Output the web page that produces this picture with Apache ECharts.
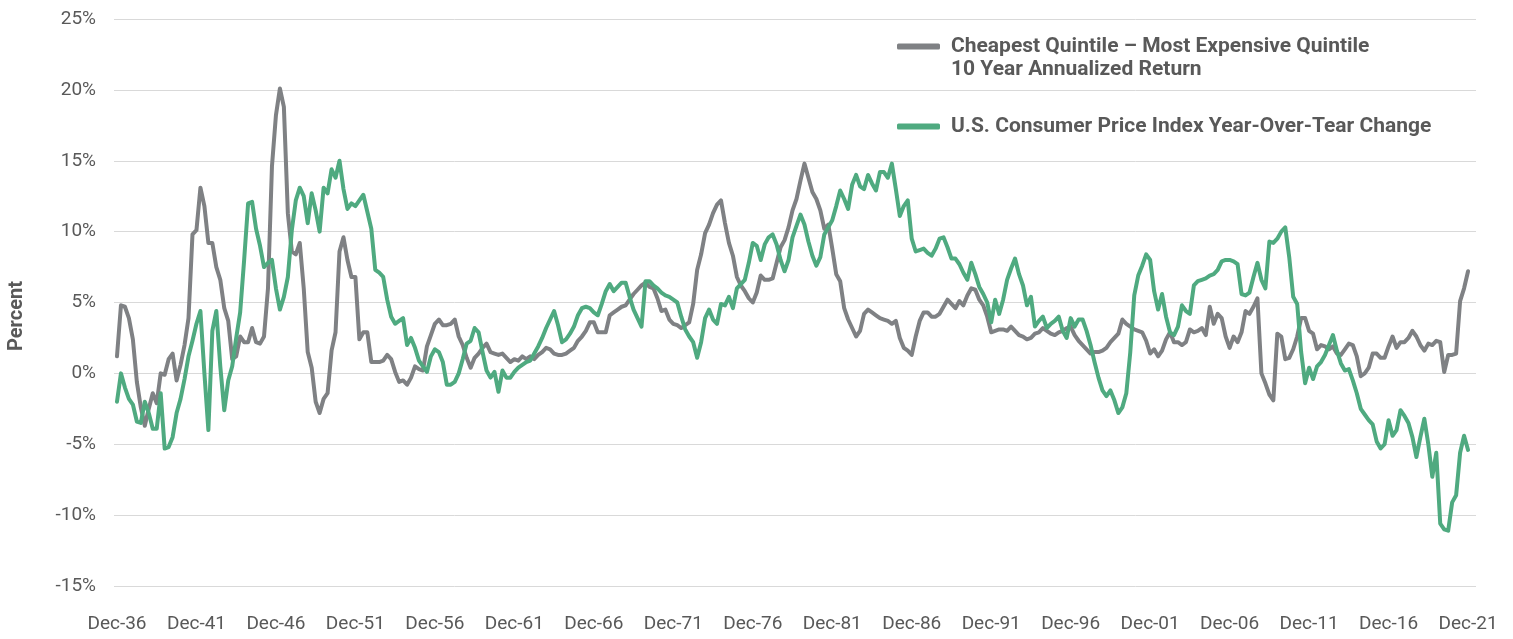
<!DOCTYPE html>
<html>
<head>
<meta charset="utf-8">
<script src="https://cdn.jsdelivr.net/npm/echarts@6/dist/echarts.min.js"></script>
<style>
html,body{margin:0;padding:0;background:#fff;}
#chart{width:1513px;height:639px;}
</style>
</head>
<body>
<div id="chart"></div>
<script>
// Quarterly observations, Dec-1936 .. Dec-2021 (341 quarters)
const tickLabels = ['Dec-36','Dec-41','Dec-46','Dec-51','Dec-56','Dec-61','Dec-66','Dec-71','Dec-76','Dec-81','Dec-86','Dec-91','Dec-96','Dec-01','Dec-06','Dec-11','Dec-16','Dec-21'];
const quartersPerTick = 20;

const seriesNames = ['Cheapest Quintile \u2013 Most Expensive Quintile', 'U.S. Consumer Price Index Year-Over-Tear Change'];
const legendSecondLine = '10 Year Annualized Return';
const yAxisTitle = 'Percent';

const spreadReturn = [
  1.2, 4.8, 4.7, 3.9, 2.4, -0.6, -2.4, -3.7, -2.5, -1.4,
  -2.1, 0.0, -0.1, 1.0, 1.4, -0.5, 0.6, 2.0, 3.9, 9.8,
  10.1, 13.1, 11.8, 9.2, 9.2, 7.5, 6.6, 4.6, 3.7, 1.0,
  1.2, 2.6, 2.2, 2.2, 3.2, 2.2, 2.1, 2.6, 6.0, 14.6,
  18.2, 20.1, 18.8, 11.3, 8.6, 8.4, 9.2, 6.0, 1.5, 0.4,
  -2.0, -2.8, -1.8, -1.4, 1.6, 2.9, 8.6, 9.6, 8.0, 6.8,
  6.8, 2.4, 2.9, 2.9, 0.8, 0.8, 0.8, 0.9, 1.3, 1.0,
  0.1, -0.6, -0.5, -0.8, -0.3, 0.5, 0.3, 0.2, 1.9, 2.7,
  3.5, 3.8, 3.4, 3.4, 3.5, 3.8, 2.6, 2.0, 1.1, 0.4,
  1.1, 1.4, 1.8, 2.1, 1.5, 1.4, 1.3, 1.4, 1.1, 0.8,
  1.0, 0.9, 1.2, 1.0, 1.2, 1.0, 1.3, 1.5, 1.8, 1.7,
  1.4, 1.3, 1.3, 1.4, 1.6, 1.8, 2.3, 2.6, 3.0, 3.6,
  3.6, 2.9, 2.9, 2.9, 4.1, 4.3, 4.5, 4.7, 4.8, 5.2,
  5.6, 5.9, 6.2, 6.4, 6.1, 6.0, 5.3, 4.4, 4.5, 3.8,
  3.5, 3.4, 3.2, 3.4, 3.6, 4.9, 7.3, 8.4, 9.9, 10.5,
  11.3, 11.9, 12.2, 10.6, 9.2, 8.3, 6.8, 6.2, 5.8, 5.3,
  5.0, 5.7, 6.9, 6.6, 6.6, 6.7, 7.8, 8.9, 9.4, 10.3,
  11.5, 12.3, 13.6, 14.8, 13.8, 12.8, 12.3, 11.5, 10.2, 10.5,
  8.8, 7.0, 6.5, 4.6, 3.8, 3.2, 2.6, 3.0, 4.2, 4.5,
  4.3, 4.1, 3.9, 3.8, 3.7, 3.5, 3.7, 2.5, 1.8, 1.6,
  1.3, 2.6, 3.7, 4.3, 4.3, 4.0, 4.0, 4.2, 4.7, 5.2,
  4.9, 4.6, 5.1, 4.8, 5.5, 6.0, 5.9, 5.2, 4.8, 4.0,
  2.9, 3.0, 3.1, 3.1, 3.0, 3.3, 3.0, 2.7, 2.6, 2.4,
  2.5, 2.8, 2.9, 3.2, 3.0, 2.8, 2.7, 2.9, 3.0, 3.2,
  3.3, 2.7, 2.3, 2.0, 1.7, 1.4, 1.5, 1.5, 1.6, 1.8,
  2.2, 2.5, 2.8, 3.8, 3.5, 3.3, 3.1, 3.0, 2.9, 2.3,
  1.4, 1.7, 1.2, 1.6, 2.4, 2.9, 2.2, 2.2, 2.0, 2.2,
  3.1, 2.9, 3.0, 3.2, 2.7, 4.7, 3.5, 4.2, 3.9, 2.6,
  1.8, 2.6, 2.2, 2.9, 4.4, 4.2, 4.7, 5.3, 0.0, -0.7,
  -1.5, -1.9, 2.8, 2.6, 1.0, 1.1, 1.7, 2.6, 3.9, 3.9,
  3.0, 2.8, 1.7, 2.0, 1.9, 1.7, 1.9, 1.4, 1.3, 1.7,
  2.1, 2.0, 1.2, -0.2, 0.0, 0.4, 1.4, 1.4, 1.1, 1.1,
  1.9, 2.6, 1.8, 2.2, 2.2, 2.5, 3.0, 2.6, 2.0, 1.6,
  2.1, 2.0, 2.3, 2.2, 0.1, 1.3, 1.3, 1.4, 5.1, 6.0,
  7.2
];

const cpiChange = [
  -2.0, 0.0, -1.0, -1.8, -2.2, -3.4, -3.5, -2.0, -2.8, -3.9,
  -3.9, -1.4, -5.3, -5.2, -4.5, -2.8, -1.8, -0.4, 1.2, 2.3,
  3.5, 4.4, 0.0, -4.0, 3.0, 4.4, 0.5, -2.6, -0.5, 0.5,
  2.5, 4.3, 8.0, 12.0, 12.1, 10.2, 9.0, 7.5, 7.8, 8.0,
  6.0, 4.5, 5.4, 6.8, 10.1, 12.2, 13.1, 12.5, 10.6, 12.7,
  11.5, 10.0, 13.1, 12.7, 14.4, 13.8, 15.0, 13.0, 11.6, 12.0,
  11.8, 12.2, 12.6, 11.4, 10.2, 7.3, 7.1, 6.8, 5.2, 4.0,
  3.5, 3.7, 3.9, 2.0, 2.5, 1.8, 0.9, 0.5, 0.1, 1.2,
  1.7, 1.5, 0.8, -0.8, -0.8, -0.6, 0.0, 1.0, 2.1, 2.3,
  3.2, 2.9, 1.5, 0.2, -0.3, 0.1, -1.3, 0.2, -0.3, -0.3,
  0.1, 0.4, 0.6, 0.8, 0.9, 1.4, 1.9, 2.5, 3.2, 3.8,
  4.4, 3.4, 2.2, 2.4, 2.8, 3.3, 4.1, 4.6, 4.7, 4.6,
  4.3, 4.1, 4.9, 5.8, 6.3, 5.8, 6.1, 6.4, 6.4, 5.4,
  4.5, 3.9, 3.3, 6.5, 6.5, 6.2, 6.0, 5.7, 5.5, 5.4,
  5.2, 5.0, 4.0, 3.1, 2.6, 2.2, 1.1, 2.2, 3.9, 4.5,
  3.8, 3.5, 4.9, 4.8, 5.4, 4.6, 6.0, 6.3, 6.6, 7.8,
  9.2, 9.0, 8.0, 9.1, 9.6, 9.8, 9.1, 8.0, 7.2, 8.0,
  9.6, 10.4, 11.2, 10.5, 9.3, 8.3, 7.6, 8.2, 9.8, 10.3,
  10.8, 11.8, 12.9, 12.3, 11.6, 13.3, 14.0, 13.2, 13.0, 14.0,
  13.4, 12.9, 14.2, 14.2, 13.8, 14.8, 13.0, 11.1, 11.8, 12.2,
  9.5, 8.6, 8.7, 8.8, 8.5, 8.3, 8.8, 9.5, 9.6, 8.9,
  8.1, 8.1, 7.7, 7.1, 6.6, 7.8, 7.0, 6.1, 5.6, 5.0,
  3.6, 5.2, 4.2, 5.2, 6.6, 7.4, 8.1, 7.0, 6.2, 4.8,
  5.4, 3.3, 3.7, 4.0, 3.2, 3.5, 3.7, 4.0, 3.0, 2.5,
  3.9, 3.3, 3.8, 3.8, 3.0, 2.0, 0.8, -0.3, -1.2, -1.6,
  -1.2, -1.9, -2.8, -2.4, -1.4, 1.5, 5.5, 6.9, 7.6, 8.4,
  8.0, 5.8, 4.5, 5.6, 4.0, 2.9, 2.7, 3.3, 4.8, 4.4,
  4.2, 6.2, 6.5, 6.6, 6.7, 6.9, 7.0, 7.3, 7.9, 8.0,
  8.0, 7.9, 7.7, 5.6, 5.5, 5.7, 6.8, 7.8, 6.6, 6.0,
  9.3, 9.2, 9.5, 10.0, 10.3, 8.2, 5.4, 4.9, 1.5, -0.7,
  0.4, -0.4, 0.5, 0.8, 1.3, 2.0, 2.7, 1.6, 0.7, 0.2,
  0.3, -0.5, -1.4, -2.5, -2.9, -3.3, -3.6, -4.8, -5.3, -5.0,
  -3.3, -4.4, -4.0, -2.6, -3.0, -3.5, -4.5, -5.9, -4.5, -3.2,
  -5.0, -7.3, -5.6, -10.6, -11.0, -11.1, -9.1, -8.6, -5.6, -4.4,
  -5.4
];

const yTicks = { min: -15, max: 25, interval: 5 };

const GRAY = '#7f8184';
const GREEN = '#4faa80';
const TEXT = '#595959';
const FONT = 'Roboto';

const toPairs = arr => arr.map((v, i) => [i, v]);
const lastIndex = spreadReturn.length - 1;

const legendText = { color: TEXT, fontFamily: FONT, fontSize: 21, fontWeight: 'bold', padding: [0, 0, 0, 6] };

const chart = echarts.init(document.getElementById('chart'), null, { renderer: 'canvas' });
chart.setOption({
  animation: false,
  backgroundColor: '#ffffff',
  textStyle: { fontFamily: FONT },
  grid: { left: 114, right: 37, top: 19, bottom: 53, containLabel: false },
  xAxis: {
    type: 'value',
    min: -0.75,
    max: lastIndex + 2,
    axisLine: { show: false },
    axisTick: { show: false },
    splitLine: { show: false },
    axisLabel: {
      customValues: tickLabels.map((_, i) => i * quartersPerTick),
      formatter: v => tickLabels[Math.round(v / quartersPerTick)],
      color: TEXT,
      fontFamily: FONT,
      fontSize: 19,
      margin: 29
    }
  },
  yAxis: {
    type: 'value',
    min: yTicks.min,
    max: yTicks.max,
    interval: yTicks.interval,
    axisLine: { show: false },
    axisTick: { show: false },
    splitLine: { lineStyle: { color: '#d9d9d9', width: 1 } },
    axisLabel: { formatter: '{value}%', color: TEXT, fontFamily: FONT, fontSize: 19, margin: 18 }
  },
  legend: [
    {
      data: [seriesNames[0]],
      left: 892, top: 31,
      icon: 'roundRect', itemWidth: 43, itemHeight: 6,
      textStyle: legendText
    },
    {
      data: [seriesNames[1]],
      left: 892, top: 111,
      icon: 'roundRect', itemWidth: 43, itemHeight: 6,
      textStyle: legendText
    }
  ],
  graphic: [
    {
      type: 'text', x: 951, y: 70,
      style: {
        text: legendSecondLine, fill: TEXT, fontFamily: FONT, fontSize: 21, fontWeight: 'bold',
        align: 'left', verticalAlign: 'middle'
      }
    },
    {
      type: 'text', x: 17, y: 316, rotation: Math.PI / 2,
      style: {
        text: yAxisTitle, fill: TEXT, fontFamily: FONT, fontSize: 20, fontWeight: 'bold',
        align: 'center', verticalAlign: 'middle'
      }
    }
  ],
  series: [
    {
      name: seriesNames[0], type: 'line', data: toPairs(spreadReturn),
      showSymbol: false, symbol: 'none',
      lineStyle: { color: GRAY, width: 4, join: 'round', cap: 'round' },
      itemStyle: { color: GRAY }, z: 2
    },
    {
      name: seriesNames[1], type: 'line', data: toPairs(cpiChange),
      showSymbol: false, symbol: 'none',
      lineStyle: { color: GREEN, width: 4, join: 'round', cap: 'round' },
      itemStyle: { color: GREEN }, z: 3
    }
  ]
});
</script>
</body>
</html>
